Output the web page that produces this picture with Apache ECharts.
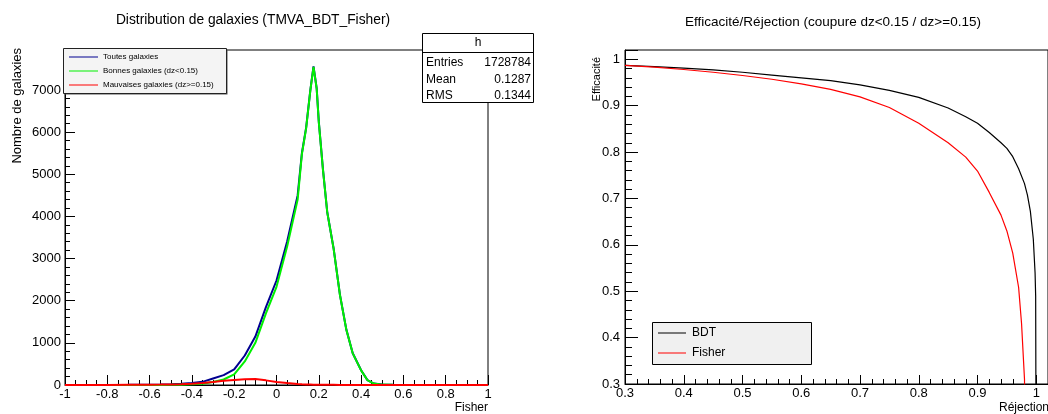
<!DOCTYPE html>
<html><head><meta charset="utf-8">
<script src="https://cdn.jsdelivr.net/npm/echarts@6/dist/echarts.min.js"></script>
<style>html,body{margin:0;padding:0;background:#fff}#c{width:1048px;height:414px}</style>
</head><body><div id="c"></div>
<script>
// ---- Left panel: distribution of galaxies vs Fisher output ----
const fisherBins = [-1.0,-0.9,-0.8,-0.7,-0.6,-0.55,-0.5,-0.45,-0.4,-0.35,-0.3,-0.25,-0.2,-0.15,-0.1,-0.05,0.0,0.05,0.1,0.12,0.14,0.16,0.175,0.19,0.2,0.22,0.24,0.27,0.3,0.33,0.36,0.4,0.43,0.46,0.5,0.55,0.6,0.7,0.8,0.9,1.0];
const toutes    = [0,0,1,3,8,12,18,28,45,75,155,235,370,700,1150,1850,2480,3400,4500,5500,6100,7000,7560,7040,6250,5100,4100,3240,2140,1320,760,350,115,35,10,4,2,1,0,0,0];
const bonnes    = [0,0,0,0,1,2,4,8,15,30,70,130,250,560,1000,1700,2330,3280,4400,5480,6090,6990,7550,7030,6240,5095,4095,3236,2136,1317,757,348,114,34,9,3,1,0,0,0,0];
const mauvaises = [0,1,2,4,6,9,13,20,30,45,70,100,120,138,140,110,70,45,25,18,12,10,8,7,6,5,4,3,2,1,1,0,0,0,0,0,0,0,0,0,0];
const statsEntries = '1728784';
const statsMean = '0.1287';
const statsRMS = '0.1344';

// ---- Right panel: efficiency vs rejection ----
const rejBDT = [0.3,0.35,0.4,0.45,0.5,0.55,0.6,0.65,0.7,0.75,0.8,0.85,0.88,0.9,0.92,0.94,0.95,0.96,0.97,0.98,0.985,0.99,0.995,0.998,0.999,1.0];
const effBDT = [0.987,0.984,0.981,0.977,0.972,0.966,0.960,0.954,0.945,0.933,0.918,0.895,0.876,0.862,0.842,0.820,0.808,0.790,0.764,0.732,0.707,0.672,0.612,0.540,0.490,0.0];
const rejFisher = [0.3,0.35,0.4,0.45,0.5,0.55,0.6,0.65,0.7,0.75,0.8,0.85,0.88,0.9,0.92,0.94,0.95,0.96,0.97,0.975,0.98,0.982];
const effFisher = [0.987,0.983,0.978,0.972,0.965,0.957,0.947,0.935,0.919,0.896,0.862,0.820,0.789,0.759,0.713,0.664,0.630,0.582,0.508,0.430,0.310,0.0];

const FONT = '"Liberation Sans", Arial, Helvetica, sans-serif';
const zip = (xs, ys) => xs.map((x, i) => [x, ys[i]]);
const plain = v => String(Math.round(v * 1000) / 1000);

const chart = echarts.init(document.getElementById('c'), null, {renderer: 'canvas'});

function axisCommon(extra) {
  return Object.assign({
    type: 'value',
    axisLine: {show: true, onZero: false, lineStyle: {color: '#000', width: 1}},
    splitLine: {show: false}
  }, extra);
}

const option = {
  animation: false,
  backgroundColor: '#fff',
  grid: [
    {left: 65, top: 50, width: 423, height: 335, show: true, borderColor: '#000', borderWidth: 1, backgroundColor: '#fff', containLabel: false, outerBoundsMode: 'none'},
    {left: 625, top: 50, width: 423, height: 334, show: true, borderColor: '#000', borderWidth: 1, backgroundColor: '#fff', containLabel: false, outerBoundsMode: 'none'}
  ],
  xAxis: [
    axisCommon({gridIndex: 0, min: -1, max: 1, interval: 0.2,
      axisTick: {show: true, inside: true, length: 10, lineStyle: {color: '#000'}},
      minorTick: {show: true, splitNumber: 4, length: 5, lineStyle: {color: '#000'}},
      axisLabel: {color: '#000', fontFamily: FONT, fontSize: 13, margin: 3, showMaxLabel: true, formatter: plain}}),
    axisCommon({gridIndex: 1, min: 0.3, max: 1.02, interval: 0.1,
      axisTick: {show: true, inside: true, length: 9, lineStyle: {color: '#000'}},
      minorTick: {show: true, splitNumber: 5, length: 5, lineStyle: {color: '#000'}},
      axisLabel: {color: '#000', fontFamily: FONT, fontSize: 13, margin: 3, showMaxLabel: false, formatter: plain}})
  ],
  yAxis: [
    axisCommon({gridIndex: 0, min: 0, max: 7950, interval: 1000,
      axisTick: {show: true, inside: true, length: 10, lineStyle: {color: '#000'}},
      minorTick: {show: true, splitNumber: 5, length: 5, lineStyle: {color: '#000'}},
      axisLabel: {color: '#000', fontFamily: FONT, fontSize: 13, margin: 4, showMaxLabel: false, formatter: plain}}),
    axisCommon({gridIndex: 1, min: 0.3, max: 1.02, interval: 0.1,
      axisTick: {show: true, inside: true, length: 13, lineStyle: {color: '#000'}},
      minorTick: {show: true, splitNumber: 5, length: 7, lineStyle: {color: '#000'}},
      axisLabel: {color: '#000', fontFamily: FONT, fontSize: 13, margin: 5, showMaxLabel: false, formatter: plain}})
  ],
  series: [
    {name: 'Toutes galaxies', type: 'line', xAxisIndex: 0, yAxisIndex: 0, data: zip(fisherBins, toutes), showSymbol: false, lineStyle: {color: '#000090', width: 2}, clip: true},
    {name: 'Bonnes galaxies (dz<0.15)', type: 'line', xAxisIndex: 0, yAxisIndex: 0, data: zip(fisherBins, bonnes), showSymbol: false, lineStyle: {color: '#00f000', width: 2}, clip: true},
    {name: 'Mauvaises galaxies (dz>=0.15)', type: 'line', xAxisIndex: 0, yAxisIndex: 0, data: zip(fisherBins, mauvaises), showSymbol: false, lineStyle: {color: '#ff0000', width: 2}, clip: true},
    {name: 'BDT', type: 'line', xAxisIndex: 1, yAxisIndex: 1, data: zip(rejBDT, effBDT), showSymbol: false, lineStyle: {color: '#000', width: 1.2}, clip: true},
    {name: 'Fisher', type: 'line', xAxisIndex: 1, yAxisIndex: 1, data: zip(rejFisher, effFisher), showSymbol: false, lineStyle: {color: '#ff0000', width: 1.2}, clip: true}
  ],
  graphic: [
    // titles
    {type: 'text', x: 253, y: 20, z: 100, style: {text: 'Distribution de galaxies (TMVA_BDT_Fisher)', fill: '#000', font: '13.8px ' + FONT, textAlign: 'center', textVerticalAlign: 'middle'}},
    {type: 'text', x: 833, y: 22, z: 100, style: {text: 'Efficacité/Réjection (coupure dz<0.15 / dz>=0.15)', fill: '#000', font: '13.5px ' + FONT, textAlign: 'center', textVerticalAlign: 'middle'}},
    // axis titles
    {type: 'text', x: 17, y: 48, rotation: Math.PI / 2, z: 100, style: {text: 'Nombre de galaxies', fill: '#000', font: '13px ' + FONT, textAlign: 'right', textVerticalAlign: 'middle'}},
    {type: 'text', x: 488, y: 408, z: 100, style: {text: 'Fisher', fill: '#000', font: '12px ' + FONT, textAlign: 'right', textVerticalAlign: 'middle'}},
    {type: 'text', x: 597, y: 57, rotation: Math.PI / 2, z: 100, style: {text: 'Efficacité', fill: '#000', font: '11px ' + FONT, textAlign: 'right', textVerticalAlign: 'middle'}},
    {type: 'text', x: 1049, y: 408, z: 100, style: {text: 'Réjection', fill: '#000', font: '12px ' + FONT, textAlign: 'right', textVerticalAlign: 'middle'}},
    // left legend
    {type: 'rect', z: 99, shape: {x: 64.5, y: 49.5, width: 163, height: 45}, style: {fill: '#555', stroke: null}},
    {type: 'rect', z: 100, shape: {x: 63.5, y: 48.5, width: 163, height: 45}, style: {fill: '#f4f4f4', stroke: '#222', lineWidth: 1}},
    {type: 'line', z: 101, shape: {x1: 69, y1: 57, x2: 98, y2: 57}, style: {stroke: '#000090', lineWidth: 1}},
    {type: 'line', z: 101, shape: {x1: 69, y1: 71, x2: 98, y2: 71}, style: {stroke: '#00f000', lineWidth: 1}},
    {type: 'line', z: 101, shape: {x1: 69, y1: 85, x2: 98, y2: 85}, style: {stroke: '#ff0000', lineWidth: 1}},
    {type: 'text', z: 101, x: 103, y: 57, style: {text: 'Toutes galaxies', fill: '#000', font: '8px ' + FONT, textVerticalAlign: 'middle'}},
    {type: 'text', z: 101, x: 103, y: 71, style: {text: 'Bonnes galaxies (dz<0.15)', fill: '#000', font: '8px ' + FONT, textVerticalAlign: 'middle'}},
    {type: 'text', z: 101, x: 103, y: 85, style: {text: 'Mauvaises galaxies (dz>=0.15)', fill: '#000', font: '8px ' + FONT, textVerticalAlign: 'middle'}},
    // stats box
    {type: 'rect', z: 100, shape: {x: 422.5, y: 33.5, width: 111, height: 69}, style: {fill: '#fff', stroke: '#000', lineWidth: 1}},
    {type: 'line', z: 101, shape: {x1: 422.5, y1: 52.5, x2: 533.5, y2: 52.5}, style: {stroke: '#000', lineWidth: 1}},
    {type: 'text', z: 101, x: 478, y: 43, style: {text: 'h', fill: '#000', font: '12px ' + FONT, textAlign: 'center', textVerticalAlign: 'middle'}},
    {type: 'text', z: 101, x: 426, y: 63, style: {text: 'Entries', fill: '#000', font: '12px ' + FONT, textVerticalAlign: 'middle'}},
    {type: 'text', z: 101, x: 426, y: 80, style: {text: 'Mean', fill: '#000', font: '12px ' + FONT, textVerticalAlign: 'middle'}},
    {type: 'text', z: 101, x: 426, y: 96, style: {text: 'RMS', fill: '#000', font: '12px ' + FONT, textVerticalAlign: 'middle'}},
    {type: 'text', z: 101, x: 531, y: 63, style: {text: statsEntries, fill: '#000', font: '12px ' + FONT, textAlign: 'right', textVerticalAlign: 'middle'}},
    {type: 'text', z: 101, x: 531, y: 80, style: {text: statsMean, fill: '#000', font: '12px ' + FONT, textAlign: 'right', textVerticalAlign: 'middle'}},
    {type: 'text', z: 101, x: 531, y: 96, style: {text: statsRMS, fill: '#000', font: '12px ' + FONT, textAlign: 'right', textVerticalAlign: 'middle'}},
    // right legend
    {type: 'rect', z: 100, shape: {x: 652.5, y: 322.5, width: 159, height: 42}, style: {fill: '#f0f0f0', stroke: '#000', lineWidth: 1}},
    {type: 'line', z: 101, shape: {x1: 658, y1: 333, x2: 686, y2: 333}, style: {stroke: '#000', lineWidth: 1}},
    {type: 'line', z: 101, shape: {x1: 658, y1: 353, x2: 686, y2: 353}, style: {stroke: '#ff0000', lineWidth: 1}},
    {type: 'text', z: 101, x: 692, y: 333, style: {text: 'BDT', fill: '#000', font: '12px ' + FONT, textVerticalAlign: 'middle'}},
    {type: 'text', z: 101, x: 692, y: 353, style: {text: 'Fisher', fill: '#000', font: '12px ' + FONT, textVerticalAlign: 'middle'}}
  ]
};
chart.setOption(option);
</script>
</body></html>
